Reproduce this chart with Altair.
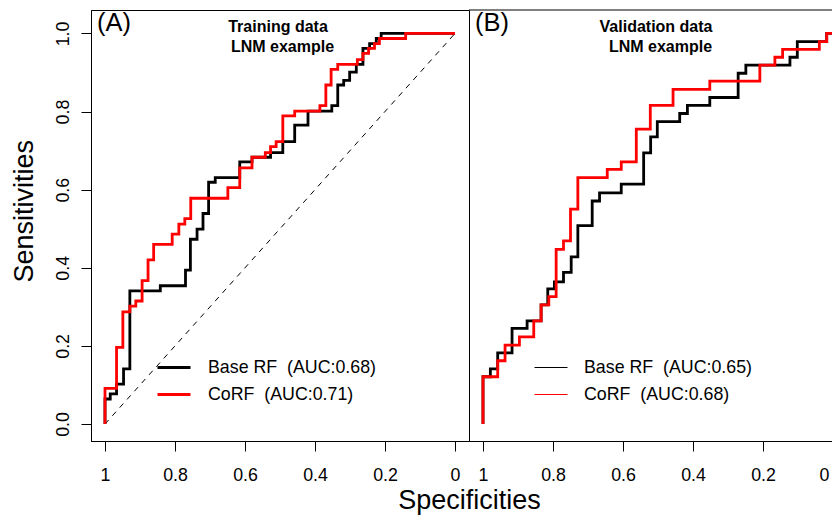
import altair as alt
import pandas as pd

FONT = "Liberation Sans"

# ---------------- data ----------------
x_ticks = [1, 0.8, 0.6, 0.4, 0.2, 0]
y_ticks = [0, 0.2, 0.4, 0.6, 0.8, 1.0]

diag_spec = [1.0, 0.0]
diag_sens = [0.0, 1.0]

# (specificity, sensitivity) vertices of each ROC curve
a_base = [(1.000, 0.000), (1.000, 0.064), (0.985, 0.064), (0.985, 0.077), (0.967, 0.077),
          (0.967, 0.102), (0.947, 0.102), (0.947, 0.141), (0.929, 0.141), (0.929, 0.341),
          (0.842, 0.341), (0.842, 0.354), (0.770, 0.354), (0.770, 0.394), (0.756, 0.394),
          (0.756, 0.473), (0.737, 0.473), (0.737, 0.499), (0.720, 0.499), (0.720, 0.539),
          (0.704, 0.539), (0.704, 0.619), (0.685, 0.619), (0.685, 0.631), (0.615, 0.631),
          (0.615, 0.671), (0.580, 0.671), (0.580, 0.683), (0.527, 0.683), (0.527, 0.695),
          (0.492, 0.695), (0.492, 0.723), (0.458, 0.723), (0.458, 0.765), (0.420, 0.765),
          (0.420, 0.801), (0.352, 0.801), (0.352, 0.815), (0.335, 0.815), (0.335, 0.868),
          (0.318, 0.868), (0.318, 0.880), (0.301, 0.880), (0.301, 0.901), (0.282, 0.901),
          (0.282, 0.921), (0.263, 0.921), (0.263, 0.962), (0.244, 0.962), (0.244, 0.974),
          (0.225, 0.974), (0.225, 0.987), (0.211, 0.987), (0.211, 1.000), (0.000, 1.000)]

a_corf = [(1.000, 0.000), (1.000, 0.091), (0.967, 0.091), (0.967, 0.196), (0.949, 0.196),
          (0.949, 0.287), (0.929, 0.287), (0.929, 0.302), (0.912, 0.302), (0.912, 0.315),
          (0.894, 0.315), (0.894, 0.367), (0.877, 0.367), (0.877, 0.420), (0.861, 0.420),
          (0.861, 0.460), (0.808, 0.460), (0.808, 0.486), (0.789, 0.486), (0.789, 0.512),
          (0.772, 0.512), (0.772, 0.526), (0.755, 0.526), (0.755, 0.578), (0.649, 0.578),
          (0.649, 0.605), (0.615, 0.605), (0.615, 0.656), (0.580, 0.656), (0.580, 0.683),
          (0.542, 0.683), (0.542, 0.695), (0.527, 0.695), (0.527, 0.710), (0.511, 0.710),
          (0.511, 0.723), (0.492, 0.723), (0.492, 0.789), (0.458, 0.789), (0.458, 0.801),
          (0.386, 0.801), (0.386, 0.815), (0.369, 0.815), (0.369, 0.868), (0.354, 0.868),
          (0.354, 0.908), (0.335, 0.908), (0.335, 0.921), (0.279, 0.921), (0.279, 0.933),
          (0.263, 0.933), (0.263, 0.949), (0.247, 0.949), (0.247, 0.962), (0.230, 0.962),
          (0.230, 0.974), (0.216, 0.974), (0.216, 0.987), (0.141, 0.987), (0.141, 1.000),
          (0.000, 1.000)]

b_base = [(1.000, 0.000), (1.000, 0.121), (0.979, 0.121), (0.979, 0.141), (0.958, 0.141),
          (0.958, 0.182), (0.917, 0.182), (0.917, 0.245), (0.874, 0.245), (0.874, 0.264),
          (0.834, 0.264), (0.834, 0.305), (0.815, 0.305), (0.815, 0.346), (0.796, 0.346),
          (0.796, 0.364), (0.770, 0.364), (0.770, 0.388), (0.748, 0.388), (0.748, 0.428),
          (0.729, 0.428), (0.729, 0.508), (0.688, 0.508), (0.688, 0.571), (0.667, 0.571),
          (0.667, 0.592), (0.605, 0.592), (0.605, 0.614), (0.541, 0.614), (0.541, 0.694),
          (0.521, 0.694), (0.521, 0.735), (0.502, 0.735), (0.502, 0.774), (0.438, 0.774),
          (0.438, 0.795), (0.416, 0.795), (0.416, 0.816), (0.352, 0.816), (0.352, 0.836),
          (0.271, 0.836), (0.271, 0.898), (0.249, 0.898), (0.249, 0.919), (0.123, 0.919),
          (0.123, 0.939), (0.102, 0.939), (0.102, 0.979), (0.018, 0.979), (0.018, 1.000),
          (0.000, 1.000)]

b_corf = [(1.000, 0.000), (1.000, 0.121), (0.958, 0.121), (0.958, 0.162), (0.937, 0.162),
          (0.937, 0.202), (0.896, 0.202), (0.896, 0.223), (0.855, 0.223), (0.855, 0.264),
          (0.834, 0.264), (0.834, 0.305), (0.812, 0.305), (0.812, 0.326), (0.791, 0.326),
          (0.791, 0.447), (0.770, 0.447), (0.770, 0.469), (0.750, 0.469), (0.750, 0.550),
          (0.729, 0.550), (0.729, 0.631), (0.645, 0.631), (0.645, 0.652), (0.605, 0.652),
          (0.605, 0.671), (0.562, 0.671), (0.562, 0.755), (0.522, 0.755), (0.522, 0.816),
          (0.457, 0.816), (0.457, 0.857), (0.352, 0.857), (0.352, 0.878), (0.209, 0.878),
          (0.209, 0.919), (0.166, 0.919), (0.166, 0.939), (0.144, 0.939), (0.144, 0.959),
          (0.039, 0.959), (0.039, 0.979), (0.018, 0.979), (0.018, 1.000), (0.000, 1.000)]

legend_a = ["Base RF\u00a0 (AUC:0.68)", "CoRF\u00a0 (AUC:0.71)"]
legend_b = ["Base RF\u00a0 (AUC:0.65)", "CoRF\u00a0 (AUC:0.68)"]
panel_tags = ["(A)", "(B)"]
title_a = ["Training data", "LNM example"]
title_b = ["Validation data", "LNM example"]
series_colors = ["#000000", "#ff0000"]

# ---------------- layout ----------------
W_A, W_B, H = 378, 371, 431
PX = 350.0
X_DOM_A = [-0.04, 1.04]
X_DOM_B = [1.04 - W_B / PX, 1.04]
Y_DOM = [-0.0435, 1.06]
PAD_L, PAD_T = 83, 2
SVG_W, SVG_H = 824, 506


def curve_df(pairs, label):
    return pd.DataFrame({
        "spec": [p[0] for p in pairs],
        "sens": [p[1] for p in pairs],
        "series": label,
        "idx": list(range(len(pairs))),
    })


def panel(base_pairs, corf_pairs, labels, tag, title_lines, width, xdom, first, leg_sw):
    if first:
        xaxis = alt.Axis(values=x_ticks, format="~g", grid=False, domain=True, domainColor="black",
                         tickColor="black", tickSize=10, tickWidth=1, labelFont=FONT,
                         labelFontSize=17.8, labelColor="black", labelBaseline="alphabetic",
                         labelPadding=29, labelFlush=False, labelOverlap=False,
                         title="Specificities", titleFont=FONT, titleFontSize=27,
                         titleFontWeight="normal", titleColor="black", titleX=W_A, titleY=67,
                         titleAlign="center", titleBaseline="alphabetic")
        yaxis = alt.Axis(values=y_ticks, format=".1f", grid=False, domain=True, domainColor="black",
                         tickColor="black", tickSize=10, tickWidth=1, labelFont=FONT,
                         labelFontSize=17.8, labelColor="black", labelAngle=270,
                         labelAlign="center", labelBaseline="alphabetic", labelPadding=12.5,
                         labelFlush=False, labelOverlap=False,
                         title="Sensitivities", titleFont=FONT, titleFontSize=27,
                         titleFontWeight="normal", titleColor="black", titleAngle=270,
                         titleX=-58.7, titleY=200.8, titleAlign="center",
                         titleBaseline="alphabetic")
        ydef = alt.Y("sens:Q", scale=alt.Scale(domain=Y_DOM, nice=False, zero=False), axis=yaxis)
    else:
        # the page is narrower than the reference picture: pull the last label in a little
        xaxis = alt.Axis(values=x_ticks, format="~g", grid=False, domain=True, domainColor="black",
                         tickColor="black", tickSize=10, tickWidth=1, labelFont=FONT,
                         labelFontSize=17.8, labelColor="black", labelBaseline="alphabetic",
                         labelPadding=29, labelFlush=False, labelOverlap=False,
                         labelOffset={"condition": {"test": "datum.value === 0", "value": -9},
                                      "value": 0},
                         title=None)
        ydef = alt.Y("sens:Q", scale=alt.Scale(domain=Y_DOM, nice=False, zero=False), axis=None)

    xdef = alt.X("spec:Q", scale=alt.Scale(domain=xdom, reverse=True, nice=False, zero=False),
                 axis=xaxis)
    cdef = alt.Color("series:N", scale=alt.Scale(domain=labels, range=series_colors),
                     legend=alt.Legend(orient="none", legendX=65, legendY=344, title=None,
                                       symbolType="stroke", symbolSize=1089,
                                       symbolStrokeWidth=leg_sw, labelFont=FONT,
                                       labelFontSize=17.8, labelColor="black", labelOffset=16,
                                       labelLimit=400, clipHeight=27, rowPadding=0, padding=0))

    layers = []
    if first:
        diag = pd.DataFrame({"spec": diag_spec, "sens": diag_sens, "idx": [0, 1]})
        layers.append(alt.Chart(diag).mark_line(color="black", strokeWidth=1,
                                                strokeDash=[5.5, 5.5]).encode(
            x=xdef, y=ydef, order=alt.Order("idx:Q")))
    for pairs, lab in [(base_pairs, labels[0]), (corf_pairs, labels[1])]:
        layers.append(alt.Chart(curve_df(pairs, lab)).mark_line(strokeWidth=2.8).encode(
            x=xdef, y=ydef, color=cdef, order=alt.Order("idx:Q")))

    one = pd.DataFrame({"t": [tag]})
    layers.append(alt.Chart(one).mark_text(font=FONT, fontSize=25.5, align="left",
                                           baseline="alphabetic", color="black").encode(
        text="t:N", x=alt.value(6), y=alt.value(21)))
    t1 = pd.DataFrame({"t": [title_lines[0]]})
    t2 = pd.DataFrame({"t": [title_lines[1]]})
    layers.append(alt.Chart(t1).mark_text(font=FONT, fontSize=16, fontWeight="bold", align="center",
                                          baseline="alphabetic", color="black").encode(
        text="t:N", x=alt.value(187), y=alt.value(21.5)))
    layers.append(alt.Chart(t2).mark_text(font=FONT, fontSize=16, fontWeight="bold", align="center",
                                          baseline="alphabetic", color="black").encode(
        text="t:N", x=alt.value(191.5), y=alt.value(41.5)))
    if not first:
        layers.append(alt.Chart(pd.DataFrame({"k": [0]})).mark_rule(color="black", strokeWidth=1).encode(
            x=alt.value(0), x2=alt.value(width), y=alt.value(0)))

    ch = alt.layer(*layers).properties(width=width, height=H)
    if not first:
        ch = ch.properties(view=alt.ViewBackground(stroke="transparent"))
    return ch


pa = panel(a_base, a_corf, legend_a, panel_tags[0], title_a, W_A, X_DOM_A, True, 2.8)
pb = panel(b_base, b_corf, legend_b, panel_tags[1], title_b, W_B, X_DOM_B, False, 1)

chart = alt.HConcatChart(hconcat=[pa, pb], spacing=0, bounds="flush").resolve_scale(
    x="independent", y="independent", color="independent"
).resolve_legend(color="independent").properties(
    autosize=alt.AutoSizeParams(type="none"),
    padding={"left": PAD_L, "top": PAD_T, "right": SVG_W - PAD_L, "bottom": SVG_H - PAD_T},
    background="white",
).configure_view(stroke="black", strokeWidth=1)

chart.save("out.html", embed_options={"renderer": "svg", "actions": False})
